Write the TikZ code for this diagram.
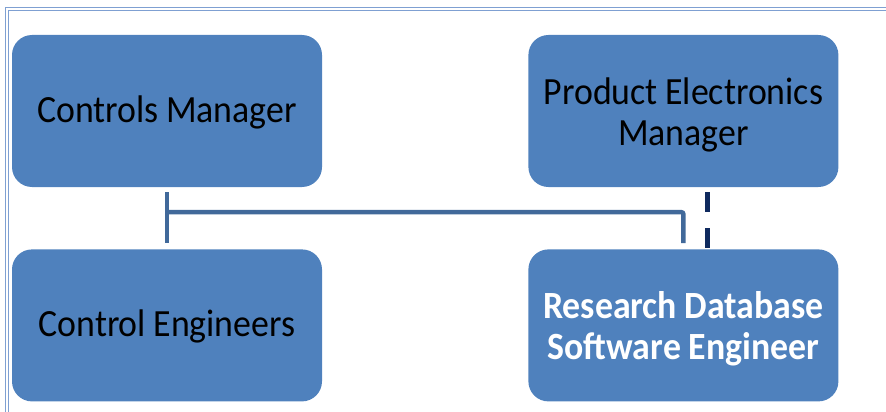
\documentclass[tikz,border=0pt]{standalone}
\usepackage{fontspec}
\setmainfont[FakeStretch=0.93]{Carlito}
\usetikzlibrary{positioning, calc}
\definecolor{boxblue}{HTML}{4F81BD}
\definecolor{linkblue}{HTML}{41699A}
\definecolor{dashnavy}{HTML}{0F2A5E}
\definecolor{frameblue}{HTML}{7FA0D2}
\newcommand{\rolefont}{\fontsize{38.5}{41}\selectfont\spaceskip=0.2em\relax}

\begin{document}
\begin{tikzpicture}[
    x=1pt, y=-1pt,
    node distance=62pt and 206pt,
    role/.style={rectangle, rounded corners=20pt, fill=boxblue, minimum width=310pt, minimum height=152pt, align=center, font=\rolefont, inner sep=0pt, text height=30pt, text depth=8pt},
    tworole/.style={role, text height=76pt},
    link/.style={draw=linkblue, line width=4.5pt, rounded corners=2pt},
    dashlink/.style={draw=dashnavy, line width=4.5pt, dash pattern=on 20pt off 16pt}
]
\useasboundingbox (0,0) rectangle (886,412);

% Frame
\draw[frameblue, line width=1pt] (5,8) rectangle (900,430);
\draw[frameblue, line width=1pt] (8,11) rectangle (900,430);

% Roles
\node[role] (ctrlMgr) at (167,111) {Controls Manager};
\node[tworole, right=of ctrlMgr] (prodMgr) {Product Electronics\\Manager};
\node[role, below=of ctrlMgr] (ctrlEng) {Control Engineers};
\node[tworole, below=of prodMgr, text=white, font=\rolefont\bfseries] (dbEng) {Research Database\\Software Engineer};

% Connectors
\draw[link] ($(ctrlMgr.south)+(0,5)$) -- ($(ctrlEng.north)+(0,-6)$);
\draw[link] ($(ctrlMgr.south)+(0,25)$) -| ($(dbEng.north)+(0,-6)$);
\draw[dashlink] ($(prodMgr.south)+(24,5)$) -- ($(dbEng.north)+(24,0)$);

\end{tikzpicture}
\end{document}
